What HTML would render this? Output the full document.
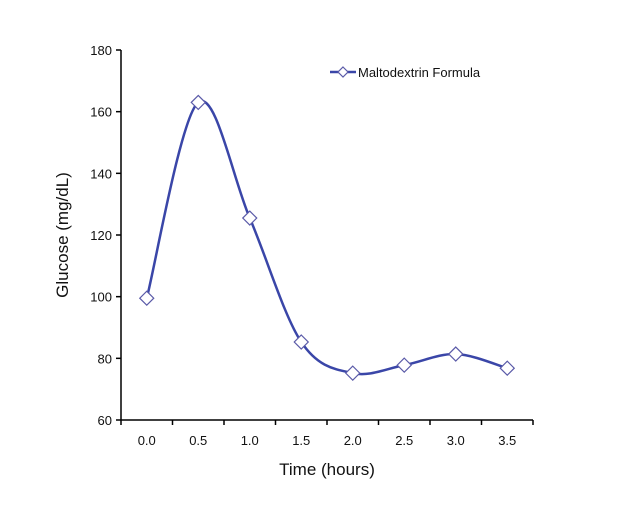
<!DOCTYPE html>
<html><head><meta charset="utf-8"><style>
body{margin:0;background:#fff}
svg text{font-family:"Liberation Sans",Arial,sans-serif;fill:#111}
</style></head><body>
<svg id="chart" width="635" height="520"></svg>
<script>
const categories=["0.0","0.5","1.0","1.5","2.0","2.5","3.0","3.5"];
const glucose=[99.5,163,125.5,85.3,75.2,77.8,81.4,76.8];
const yTicks=[60,80,100,120,140,160,180];
const svg=document.getElementById('chart');
const NS='http://www.w3.org/2000/svg';
const x0=121,x1=533,y0=420,y1=50,yMin=60,yMax=180;
const band=(x1-x0)/categories.length;
const xs=i=>x0+band*(i+0.5);
const ys=v=>y0-(v-yMin)/(yMax-yMin)*(y0-y1);
function mk(t,a,txt){const e=document.createElementNS(NS,t);for(const k in a)e.setAttribute(k,a[k]);if(txt!==undefined)e.textContent=txt;svg.appendChild(e);return e;}
let e;
e=mk('line',{x1:x0,y1:y1,x2:x0,y2:y0,stroke:'#000','stroke-width':1.5});


e=mk('line',{x1:x0,y1:y0,x2:x1,y2:y0,stroke:'#000','stroke-width':1.5});


yTicks.forEach(v=>{
  e=mk('line',{x1:x0-5,y1:ys(v),x2:x0,y2:ys(v),stroke:'#000','stroke-width':1.5});
  
  
  e=mk('text',{x:x0-9,y:ys(v)+5,'text-anchor':'end','font-size':13},String(v));
  
  
});
for(let i=0;i<=categories.length;i++){
  e=mk('line',{x1:x0+band*i,y1:y0,x2:x0+band*i,y2:y0+5,stroke:'#000','stroke-width':1.5});
  
  
}
categories.forEach((c,i)=>{
  e=mk('text',{x:xs(i),y:y0+25,'text-anchor':'middle','font-size':13},c);
  
  
});
e=mk('text',{x:(x0+x1)/2,y:475,'text-anchor':'middle','font-size':17},'Time (hours)');


e=mk('text',{x:68,y:235,'text-anchor':'middle','font-size':17,transform:'rotate(-90 68 235)'},'Glucose (mg/dL)');


const pts=glucose.map((v,i)=>[xs(i),ys(v)]);
let d='M'+pts[0][0]+','+pts[0][1];
for(let i=0;i<pts.length-1;i++){
  const p0=pts[i-1]||pts[i],p1=pts[i],p2=pts[i+1],p3=pts[i+2]||p2,t=6;
  d+=` C${p1[0]+(p2[0]-p0[0])/t},${p1[1]+(p2[1]-p0[1])/t} ${p2[0]-(p3[0]-p1[0])/t},${p2[1]-(p3[1]-p1[1])/t} ${p2[0]},${p2[1]}`;
}
e=mk('path',{d:d,fill:'none',stroke:'#3a46a8','stroke-width':2.5});


pts.forEach(p=>{
  e=mk('polygon',{points:`${p[0]},${p[1]-7} ${p[0]+7},${p[1]} ${p[0]},${p[1]+7} ${p[0]-7},${p[1]}`,fill:'#fff',stroke:'#5a5aa8','stroke-width':1.2});
  
  
});
e=mk('line',{x1:330,y1:72,x2:356,y2:72,stroke:'#3a46a8','stroke-width':2.5});


e=mk('polygon',{points:'343,67 348,72 343,77 338,72',fill:'#fff',stroke:'#5a5aa8','stroke-width':1.2});


e=mk('text',{x:358,y:77,'font-size':13},'Maltodextrin Formula');


</script>
</body></html>
